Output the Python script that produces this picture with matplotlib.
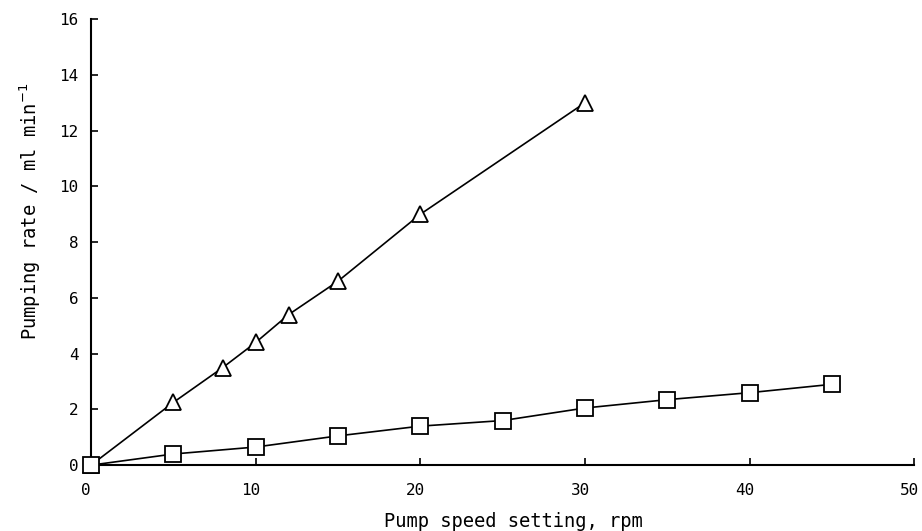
import matplotlib.pyplot as plt
import matplotlib.transforms as mtransforms

# pump calibration data
speed_tri = [0, 5, 8, 10, 12, 15, 20, 30]
rate_tri = [0, 2.25, 3.5, 4.4, 5.4, 6.6, 9.0, 13.0]

speed_sq = [0, 5, 10, 15, 20, 25, 30, 35, 40, 45]
rate_sq = [0, 0.4, 0.65, 1.05, 1.4, 1.6, 2.05, 2.35, 2.6, 2.9]

xticks = [0, 10, 20, 30, 40, 50]
yticks = [0, 2, 4, 6, 8, 10, 12, 14, 16]

plt.rcParams['font.family'] = ['DejaVu Sans Mono']

fig = plt.figure(figsize=(9.22, 5.31), dpi=100)
ax = fig.add_axes([0.0987, 0.124, 0.893, 0.840])

ax.plot(speed_tri, rate_tri, color='black', lw=1.2, marker='^', ms=12,
        mfc='white', mec='black', mew=1.3, clip_on=False, zorder=3)
ax.plot(speed_sq, rate_sq, color='black', lw=1.2, marker='s', ms=11,
        mfc='white', mec='black', mew=1.3, clip_on=False, zorder=3)

ax.set_xlim(0, 50)
ax.set_ylim(0, 16)
ax.set_xticks(xticks)
ax.set_yticks(yticks)
ax.spines['top'].set_visible(False)
ax.spines['right'].set_visible(False)
ax.spines['left'].set_linewidth(1.5)
ax.spines['bottom'].set_linewidth(1.5)
ax.tick_params(direction='in', length=5, width=1.2, labelsize=11.5)
ax.tick_params(axis='x', pad=13)
ax.tick_params(axis='y', pad=9)

# x tick labels sit slightly left of their ticks in the original
shift = mtransforms.ScaledTranslation(-5 / 100, 0, fig.dpi_scale_trans)
for lab in ax.get_xticklabels():
    lab.set_transform(lab.get_transform() + shift)

ax.set_xlabel('Pump speed setting, rpm', fontsize=13.5)
ax.set_ylabel('Pumping rate / ml min$^{-1}$', fontsize=13.5)
ax.xaxis.set_label_coords(0.513, -0.105)
ax.yaxis.set_label_coords(-0.058, 0.57)

fig.savefig('out.png', dpi=100)
